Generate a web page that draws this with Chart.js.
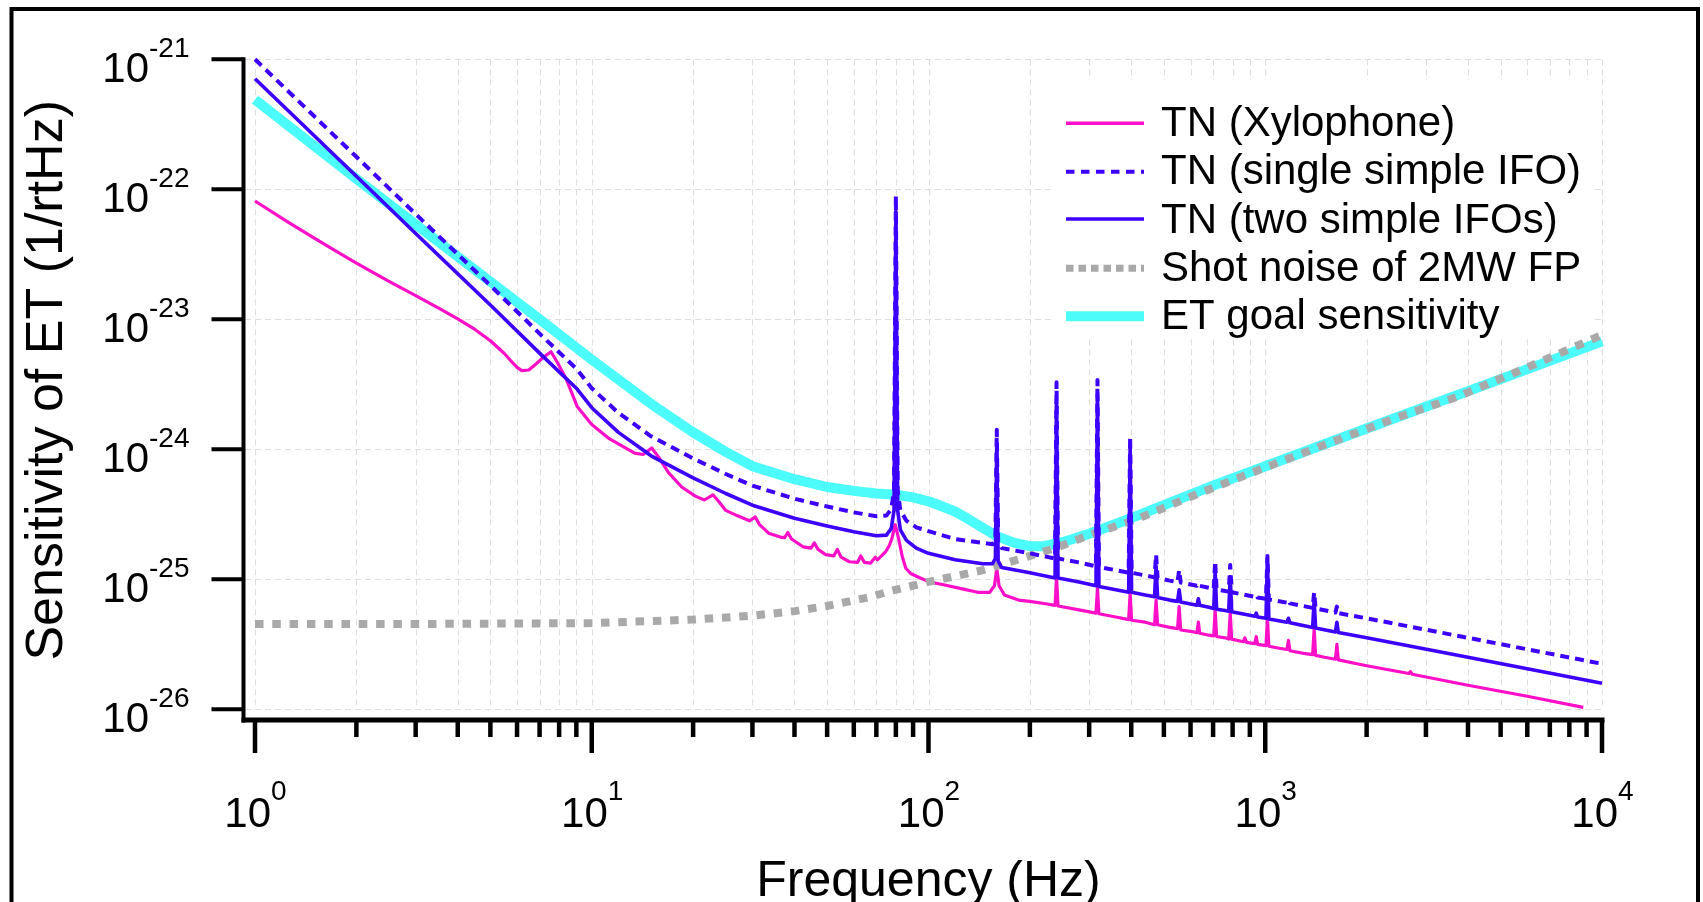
<!DOCTYPE html>
<html><head><meta charset="utf-8">
<script src="https://cdn.jsdelivr.net/npm/chart.js@4.4.1/dist/chart.umd.min.js"></script>
<style>html,body{margin:0;padding:0;background:#fff;overflow:hidden}canvas{display:block}</style>
</head><body>
<canvas id="c" width="1703" height="902"></canvas>
<script>
// ---------- DATA (values are log10 of sensitivity in 1/rtHz) ----------
const xTickExps = [0, 1, 2, 3, 4];
const yTickExps = [-21, -22, -23, -24, -25, -26];
const minorMultipliers = [2, 3, 4, 5, 6, 7, 8, 9];
const xTitle = 'Frequency (Hz)';
const yTitle = 'Sensitivity of ET (1/rtHz)';
const legendLabels = ['TN (Xylophone)', 'TN (single simple IFO)', 'TN (two simple IFOs)', 'Shot noise of 2MW FP', 'ET goal sensitivity'];

const etF   = [1, 2, 3, 5, 7, 10, 15, 20, 25, 30, 40, 50, 60, 70, 80, 90, 100, 110, 120, 130, 140, 160, 180, 200, 220, 250, 300, 400, 500, 700, 1000, 2000, 5000, 10000];
const etLog = [-21.31, -21.92, -22.27, -22.71, -23.00, -23.31, -23.65, -23.87, -24.02, -24.13, -24.23, -24.29, -24.32, -24.34, -24.35, -24.37, -24.40, -24.44, -24.48, -24.53, -24.58, -24.67, -24.72, -24.745, -24.745, -24.715, -24.65, -24.53, -24.43, -24.28, -24.13, -23.84, -23.46, -23.17];

const shotF   = [1, 3, 10, 20, 30, 40, 50, 66, 80, 100, 145, 200, 244, 300, 413, 641, 1000, 1554, 2500, 3686, 6000, 10000];
const shotLog = [-25.344, -25.344, -25.337, -25.31, -25.28, -25.245, -25.205, -25.14, -25.08, -25.02, -24.93, -24.82, -24.75, -24.66, -24.54, -24.335, -24.14, -23.95, -23.75, -23.60, -23.37, -23.12];

const xyloF = [1, 1.25, 1.5, 1.75, 2, 2.5, 3, 3.5, 4, 4.5, 5, 5.5, 5.8, 6.0, 6.2, 6.5, 6.82, 7.2, 7.57, 7.9, 8.4, 9.05, 10, 11.3, 12.4, 13.4, 14.2, 15.07, 15.8, 16.9, 18.5, 20.3, 21.6, 22.9, 23.8, 25, 27, 29.4, 30.6, 31.5, 33.5, 36.3, 37.4, 38.2, 39.2, 42.4, 44.8, 45.8, 47, 49.5, 52.3, 53.6, 55, 58.2, 61.6, 62.9, 64.5, 67.3, 69.5, 70.5, 72.5, 74.5, 76.5, 77.8, 78.8, 79.6, 80.4, 81.7, 83.5, 85.6, 88.5, 92.8, 100.5, 110, 124, 140, 152, 157, 159.5, 162, 168, 185, 200, 225, 237.6, 240, 242.4, 280, 314.3, 317.5, 320.7, 360, 393, 397, 401, 440, 469, 474, 479, 520, 549, 555, 561, 600, 627, 633, 639, 680, 703, 710, 717, 760, 779, 787, 795, 861, 870, 879, 931, 940, 949, 1005, 1015, 1025, 1100, 1160, 1172, 1184, 1300, 1383, 1397, 1411, 1500, 1616, 1632, 1648, 2000, 2670, 2700, 2730, 4000, 6000, 8800];
const xyloLog = [-22.09, -22.25, -22.376, -22.48, -22.567, -22.708, -22.818, -22.912, -22.996, -23.078, -23.165, -23.263, -23.33, -23.37, -23.395, -23.39, -23.345, -23.29, -23.25, -23.33, -23.46, -23.67, -23.81, -23.92, -23.98, -24.03, -24.04, -23.99, -24.06, -24.18, -24.29, -24.36, -24.39, -24.35, -24.40, -24.47, -24.51, -24.55, -24.52, -24.58, -24.645, -24.675, -24.68, -24.64, -24.69, -24.75, -24.76, -24.72, -24.77, -24.81, -24.82, -24.77, -24.83, -24.865, -24.87, -24.82, -24.87, -24.875, -24.83, -24.85, -24.82, -24.79, -24.74, -24.69, -24.63, -24.58, -24.62, -24.70, -24.82, -24.915, -24.955, -24.98, -25.02, -25.04, -25.07, -25.10, -25.10, -25.05, -24.915, -25.05, -25.12, -25.16, -25.17, -25.19, -25.20, -24.98, -25.205, -25.235, -25.26, -25.07, -25.265, -25.29, -25.31, -25.11, -25.315, -25.33, -25.35, -25.16, -25.35, -25.37, -25.38, -25.21, -25.39, -25.40, -25.41, -25.33, -25.415, -25.43, -25.435, -25.24, -25.44, -25.45, -25.46, -25.26, -25.46, -25.48, -25.45, -25.485, -25.495, -25.44, -25.50, -25.51, -25.30, -25.515, -25.53, -25.54, -25.47, -25.55, -25.57, -25.58, -25.38, -25.585, -25.60, -25.615, -25.50, -25.62, -25.665, -25.725, -25.71, -25.73, -25.815, -25.90, -25.985];

const twoF = [1, 2, 3, 5, 7, 9, 10, 12, 15, 20, 25, 30, 40, 50, 60, 70, 75, 77.5, 79, 80, 81, 82.5, 86, 92, 100, 120, 145, 155, 158, 159.5, 161, 165, 200, 237.6, 240, 242.4, 280, 314.3, 317.5, 320.7, 360, 393, 397, 401, 440, 469, 474, 479, 520, 549, 555, 561, 600, 627, 633, 639, 680, 703, 710, 717, 760, 779, 787, 795, 931, 940, 949, 1005, 1015, 1025, 1160, 1172, 1184, 1383, 1397, 1411, 1616, 1632, 1648, 2000, 4000, 10000];
const twoLog = [-21.15, -21.90, -22.34, -22.89, -23.26, -23.53, -23.68, -23.87, -24.05, -24.22, -24.34, -24.43, -24.53, -24.59, -24.635, -24.665, -24.66, -24.61, -24.47, -22.17, -24.47, -24.62, -24.70, -24.76, -24.80, -24.85, -24.88, -24.88, -24.84, -23.95, -24.86, -24.91, -24.95, -24.99, -23.62, -24.99, -25.02, -25.05, -23.58, -25.055, -25.08, -25.10, -23.98, -25.10, -25.12, -25.135, -24.90, -25.14, -25.16, -25.17, -25.08, -25.175, -25.19, -25.20, -25.15, -25.20, -25.215, -25.225, -24.94, -25.23, -25.24, -25.245, -24.98, -25.25, -25.285, -25.26, -25.29, -25.30, -24.84, -25.305, -25.33, -25.30, -25.335, -25.37, -25.16, -25.375, -25.405, -25.33, -25.41, -25.45, -25.60, -25.80];

const singleF = [1, 2, 3, 5, 7, 9, 10, 12, 15, 20, 25, 30, 40, 50, 60, 70, 75, 77.5, 79, 80, 81, 82.5, 86, 92, 100, 120, 145, 155, 158, 159.5, 161, 165, 200, 237.6, 240, 242.4, 280, 314.3, 317.5, 320.7, 360, 393, 397, 401, 440, 469, 474, 479, 520, 549, 555, 561, 600, 627, 633, 639, 680, 703, 710, 717, 760, 779, 787, 795, 931, 940, 949, 1005, 1015, 1025, 1160, 1172, 1184, 1383, 1397, 1411, 1616, 1632, 1648, 2000, 4000, 10000];
const singleLog = [-21.00, -21.75, -22.19, -22.74, -23.11, -23.38, -23.53, -23.72, -23.90, -24.07, -24.19, -24.28, -24.38, -24.44, -24.485, -24.515, -24.51, -24.46, -24.32, -22.05, -24.32, -24.47, -24.55, -24.60, -24.63, -24.69, -24.72, -24.73, -24.69, -23.85, -24.71, -24.76, -24.80, -24.84, -23.485, -24.84, -24.87, -24.90, -23.467, -24.905, -24.93, -24.95, -23.90, -24.95, -24.97, -24.985, -24.81, -24.99, -25.01, -25.02, -24.93, -25.025, -25.04, -25.05, -25.03, -25.05, -25.065, -25.075, -24.86, -25.08, -25.09, -25.095, -24.89, -25.10, -25.135, -25.12, -25.14, -25.15, -24.82, -25.155, -25.18, -25.16, -25.185, -25.22, -25.10, -25.225, -25.255, -25.21, -25.26, -25.30, -25.45, -25.65];

// ---------- STYLE ----------
const FONT = '"Liberation Sans", Arial, Helvetica, sans-serif';
const C_MAG = '#ff0fc8', C_BLUE = '#3c00ff', C_CYAN = '#4cfcfa', C_GRAY = '#a9a9a9';

function pts(fs, logs) { return fs.map((f, i) => ({ x: f, y: Math.pow(10, logs[i]) })); }

const igor = {
  id: 'igor',
  beforeDraw(chart) {
    const ctx = chart.ctx;
    ctx.save(); ctx.fillStyle = '#fff'; ctx.fillRect(0, 0, chart.width, chart.height); ctx.restore();
  },
  beforeDatasetsDraw(chart) {
    const { ctx, chartArea: a, scales: { x, y } } = chart;
    ctx.save();
    ctx.strokeStyle = '#dedede'; ctx.lineWidth = 1; ctx.setLineDash([6, 4]);
    const xs = [];
    xTickExps.forEach((e, i) => {
      const d = Math.pow(10, e);
      xs.push(d);
      if (i < xTickExps.length - 1) minorMultipliers.forEach(m => xs.push(m * d));
    });
    xs.forEach(v => {
      const px = Math.round(x.getPixelForValue(v)) + 0.5;
      ctx.beginPath(); ctx.moveTo(px, a.top); ctx.lineTo(px, a.bottom); ctx.stroke();
    });
    yTickExps.forEach(e => {
      const py = Math.round(y.getPixelForValue(Math.pow(10, e))) + 0.5;
      ctx.beginPath(); ctx.moveTo(a.left - 10, py); ctx.lineTo(a.right, py); ctx.stroke();
    });
    ctx.setLineDash([]);
    ctx.fillStyle = '#fff';
    ctx.fillRect(1055, 80, 540, 257);
    ctx.restore();
  },
  afterDatasetsDraw(chart) {
    const { ctx, chartArea: a, scales: { x, y } } = chart;
    ctx.save();
    ctx.setLineDash([]);
    ctx.strokeStyle = '#000'; ctx.fillStyle = '#000';
    const axX = a.left - 11.5, axY = a.bottom + 10.7;
    ctx.lineWidth = 4;
    ctx.beginPath(); ctx.moveTo(axX, a.top - 2); ctx.lineTo(axX, axY + 2.5); ctx.stroke();
    ctx.lineWidth = 5;
    ctx.beginPath(); ctx.moveTo(axX - 2, axY); ctx.lineTo(a.right + 2.5, axY); ctx.stroke();
    ctx.lineWidth = 4.5;
    xTickExps.forEach((e, i) => {
      const d = Math.pow(10, e);
      const px = x.getPixelForValue(d);
      ctx.beginPath(); ctx.moveTo(px, axY); ctx.lineTo(px, axY + 33); ctx.stroke();
      if (i < xTickExps.length - 1) minorMultipliers.forEach(m => {
        const q = x.getPixelForValue(m * d);
        ctx.beginPath(); ctx.moveTo(q, axY); ctx.lineTo(q, axY + 17); ctx.stroke();
      });
    });
    ctx.lineWidth = 4;
    yTickExps.forEach(e => {
      const py = y.getPixelForValue(Math.pow(10, e));
      ctx.beginPath(); ctx.moveTo(axX, py); ctx.lineTo(axX - 32, py); ctx.stroke();
    });
    yTickExps.forEach(e => {
      const py = y.getPixelForValue(Math.pow(10, e));
      ctx.font = '42px ' + FONT; ctx.textAlign = 'right'; ctx.textBaseline = 'alphabetic';
      ctx.fillText('10', 149, py + 22.5);
      ctx.font = '28px ' + FONT; ctx.textAlign = 'left';
      ctx.fillText(String(e), 149, py - 2.5);
    });
    xTickExps.forEach(e => {
      const px = x.getPixelForValue(Math.pow(10, e));
      ctx.font = '42px ' + FONT; const wb = ctx.measureText('10').width;
      ctx.font = '28px ' + FONT; const we = ctx.measureText(String(e)).width;
      const x0 = px - (wb + we) / 2 + 0.5;
      ctx.textAlign = 'left'; ctx.textBaseline = 'alphabetic';
      ctx.font = '42px ' + FONT; ctx.fillText('10', x0, 826.5);
      ctx.font = '28px ' + FONT; ctx.fillText(String(e), x0 + wb, 800);
    });
    ctx.textAlign = 'center'; ctx.textBaseline = 'alphabetic';
    ctx.font = '50px ' + FONT;
    ctx.fillText(xTitle, (a.left + a.right) / 2, 896);
    ctx.save();
    ctx.font = '52px ' + FONT;
    ctx.translate(62, (a.top + a.bottom) / 2 - 4);
    ctx.rotate(-Math.PI / 2);
    ctx.fillText(yTitle, 0, 0);
    ctx.restore();
    const rowsY = [123.3, 171.7, 219, 268.3, 316.3];
    const baseY = [136, 184.3, 232.7, 280.7, 329.3];
    const styles = [
      { c: C_MAG, w: 3.4, d: [] },
      { c: C_BLUE, w: 4, d: [8.5, 6.5] },
      { c: C_BLUE, w: 3.6, d: [] },
      { c: C_GRAY, w: 7, d: [7.5, 5] },
      { c: C_CYAN, w: 10, d: [] }
    ];
    legendLabels.forEach((t, i) => {
      const s = styles[i];
      ctx.strokeStyle = s.c; ctx.lineWidth = s.w; ctx.setLineDash(s.d); ctx.lineCap = 'butt';
      ctx.beginPath(); ctx.moveTo(1066, rowsY[i]); ctx.lineTo(1144, rowsY[i]); ctx.stroke();
      ctx.setLineDash([]);
      ctx.fillStyle = '#000'; ctx.font = '42px ' + FONT; ctx.textAlign = 'left';
      ctx.fillText(t, 1161, baseY[i]);
    });
    ctx.strokeStyle = '#000'; ctx.lineWidth = 4; ctx.setLineDash([]);
    ctx.strokeRect(11.5, 9, 1686.5, 1000);
    ctx.restore();
  }
};

new Chart(document.getElementById('c'), {
  type: 'line',
  data: {
    datasets: [
      { label: legendLabels[2], data: pts(twoF, twoLog), borderColor: C_BLUE, borderWidth: 3.6, borderJoinStyle: 'round', order: 1 },
      { label: legendLabels[1], data: pts(singleF, singleLog), borderColor: C_BLUE, borderWidth: 4, borderDash: [9, 6], borderCapStyle: 'butt', borderJoinStyle: 'round', order: 2 },
      { label: legendLabels[3], data: pts(shotF, shotLog), borderColor: C_GRAY, borderWidth: 8, borderDash: [8.5, 8.8], borderCapStyle: 'butt', order: 3 },
      { label: legendLabels[0], data: pts(xyloF, xyloLog), borderColor: C_MAG, borderWidth: 3.2, borderJoinStyle: 'round', order: 4 },
      { label: legendLabels[4], data: pts(etF, etLog), borderColor: C_CYAN, borderWidth: 10, borderJoinStyle: 'round', order: 5 }
    ].map(d => Object.assign({ fill: false, pointRadius: 0, pointHoverRadius: 0, tension: 0, clip: false }, d))
  },
  options: {
    responsive: false,
    animation: false,
    devicePixelRatio: 1,
    events: [],
    layout: { padding: { left: 255, right: 101, top: 59.3, bottom: 192.7 } },
    scales: {
      x: { type: 'logarithmic', min: 1, max: 10000, display: false },
      y: { type: 'logarithmic', min: 1e-26, max: 1e-21, display: false }
    },
    plugins: { legend: { display: false }, tooltip: { enabled: false } }
  },
  plugins: [igor]
});
</script>
</body></html>
